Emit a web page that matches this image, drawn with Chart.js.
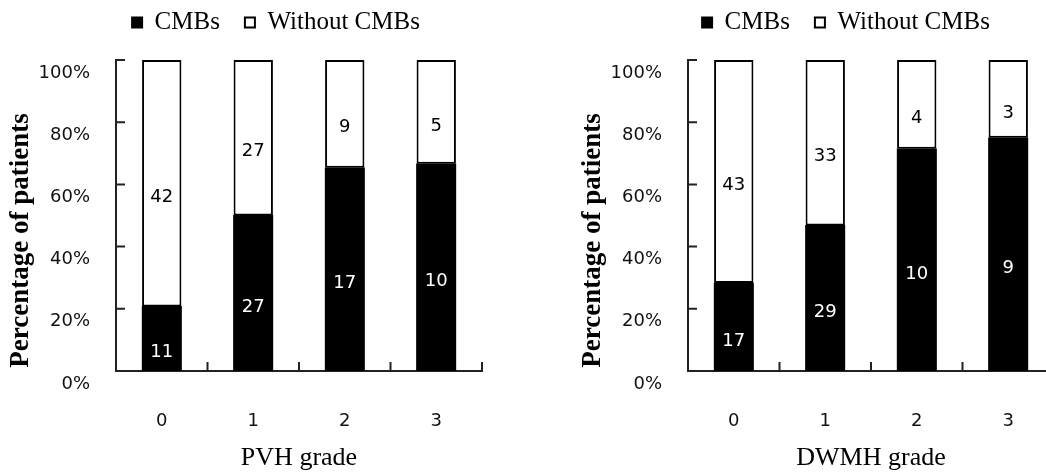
<!DOCTYPE html>
<html>
<head>
<meta charset="utf-8">
<script src="https://cdn.jsdelivr.net/npm/chart.js@4.4.1/dist/chart.umd.min.js"></script>
<style>
  html, body { margin: 0; padding: 0; background: #fff; overflow: hidden; width: 1046px; height: 476px; }
  canvas { position: absolute; top: 0; }
  #pvh { left: 0; }
  #dwmh { left: 560px; }
</style>
</head>
<body>
<canvas id="pvh" width="552" height="476"></canvas>
<canvas id="dwmh" width="572" height="476"></canvas>
<script>
const grades = ['0', '1', '2', '3'];
const pvhCMBs = [11, 27, 17, 10];
const pvhWithout = [42, 27, 9, 5];
const dwmhCMBs = [17, 29, 10, 9];
const dwmhWithout = [43, 33, 4, 3];

// share of each group, in percent
function pct(part, other) {
  return part.map((v, i) => v / (v + other[i]) * 100);
}

const serif = '"Liberation Serif", "Times New Roman", serif';
const sans = '"DejaVu Sans", sans-serif';
Chart.defaults.color = '#000';
Chart.defaults.font.family = sans;

// patient counts written inside each segment
const countLabels = {
  id: 'countLabels',
  afterDatasetsDraw(chart) {
    const ctx = chart.ctx;
    ctx.save();
    ctx.font = '18px ' + sans;
    ctx.textAlign = 'center';
    ctx.textBaseline = 'middle';
    chart.data.datasets.forEach((ds, d) => {
      chart.getDatasetMeta(d).data.forEach((bar, i) => {
        ctx.fillStyle = d === 0 ? '#fff' : '#000';
        ctx.fillText(ds.counts[i], bar.x, (bar.y + bar.base) / 2 + 14);
      });
    });
    ctx.restore();
  }
};

// inward tick marks + y title, legend nudged up
const axisExtras = {
  id: 'axisExtras',
  afterLayout(chart) {
    chart.legend.top -= 15;
    chart.legend.bottom -= 15;
  },
  afterDraw(chart) {
    const { ctx, chartArea: a, scales: { x, y } } = chart;
    ctx.save();
    ctx.strokeStyle = '#222';
    ctx.lineWidth = 2;
    ctx.beginPath();
    y.ticks.forEach(t => {
      const py = y.getPixelForValue(t.value);
      ctx.moveTo(a.left, py);
      ctx.lineTo(a.left + 9, py);
    });
    const half = (x.getPixelForValue(1) - x.getPixelForValue(0)) / 2;
    grades.forEach((g, i) => {
      const px = x.getPixelForValue(i) + half;
      ctx.moveTo(px, a.bottom);
      ctx.lineTo(px, a.bottom - 9);
    });
    ctx.stroke();
    ctx.fillStyle = '#000';
    ctx.font = 'bold 27px ' + serif;
    ctx.textAlign = 'center';
    ctx.textBaseline = 'middle';
    ctx.translate(a.left - 95, (a.top + a.bottom) / 2 + 25);
    ctx.rotate(-Math.PI / 2);
    ctx.fillText('Percentage of patients', 0, 0);
    ctx.restore();
  }
};

function makeChart(id, cmbs, without, title, yWidth, rightPad) {
  new Chart(document.getElementById(id), {
    type: 'bar',
    data: {
      labels: grades,
      datasets: [{
        label: 'CMBs',
        data: pct(cmbs, without),
        counts: cmbs,
        backgroundColor: '#000',
        borderColor: '#000',
        borderWidth: 2,
        borderSkipped: false,
        inflateAmount: 0.5
      }, {
        label: 'Without CMBs',
        data: pct(without, cmbs),
        counts: without,
        backgroundColor: '#fff',
        borderColor: '#000',
        borderWidth: 2,
        borderSkipped: false
      }]
    },
    options: {
      responsive: false,
      animation: false,
      devicePixelRatio: 1,
      barPercentage: 0.43,
      categoryPercentage: 1,
      plugins: {
        legend: {
          labels: {
            font: { family: serif, size: 25 },
            boxWidth: 10,
            boxHeight: 10,
            padding: 25,
            color: '#000'
          }
        },
        tooltip: { enabled: false }
      },
      scales: {
        x: {
          stacked: true,
          offset: true,
          grid: { display: false },
          border: { display: true, color: '#222', width: 2 },
          ticks: { padding: 32, font: { size: 18 }, color: '#111' },
          title: { display: true, text: title, font: { family: serif, size: 26 }, padding: { top: 0, bottom: 2 } },
          afterFit(s) { s.height = 105; s.paddingRight = rightPad; }
        },
        y: {
          stacked: true,
          min: 0,
          max: 100,
          grid: { display: false },
          border: { display: true, color: '#222', width: 2 },
          ticks: { stepSize: 20, callback: v => v + '%', padding: 18, labelOffset: 13, font: { size: 18 }, color: '#111' },
          afterFit(s) { s.width = yWidth; s.paddingTop = 0; s.paddingBottom = 0; }
        }
      }
    },
    plugins: [countLabels, axisExtras]
  });
}

makeChart('pvh', pvhCMBs, pvhWithout, 'PVH grade', 116, 70);
makeChart('dwmh', dwmhCMBs, dwmhWithout, 'DWMH grade', 128, 78);
</script>
</body>
</html>
